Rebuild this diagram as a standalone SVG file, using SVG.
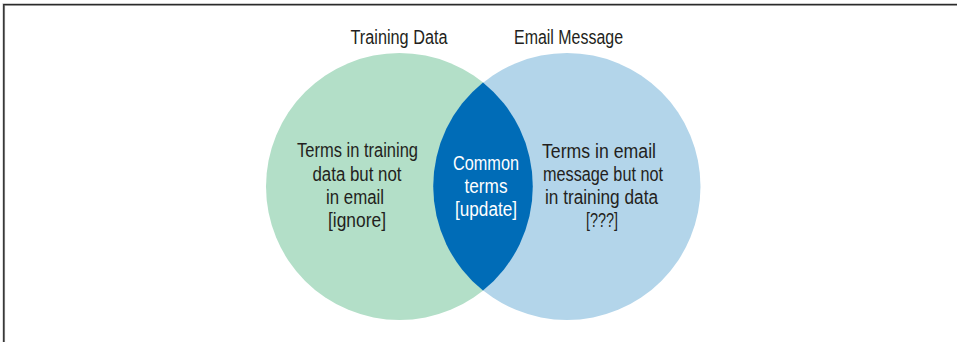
<svg xmlns="http://www.w3.org/2000/svg" width="957" height="342" viewBox="0 0 957 342">
<style>
text{font-family:"Liberation Sans",Arial,sans-serif;font-size:20px;fill:#231f20;text-anchor:middle}
.w{fill:#ffffff}
</style>
<rect width="957" height="342" fill="#ffffff"/>
<path d="M3.8,342 V4.6 H957" fill="none" stroke="#bdbdbd" stroke-width="2.6"/>
<path d="M3.8,342 V4.6 H957" fill="none" stroke="#2b2b2b" stroke-width="1.4"/>
<g id="training">
<circle cx="399.5" cy="186.5" r="133.5" fill="#b3dfc8"/>
<text x="399" y="44" textLength="97" lengthAdjust="spacingAndGlyphs">Training Data</text>
<text x="357.5" y="157" textLength="121" lengthAdjust="spacingAndGlyphs">Terms in training</text>
<text x="357" y="181" textLength="89" lengthAdjust="spacingAndGlyphs">data but not</text>
<text x="355" y="204" textLength="58" lengthAdjust="spacingAndGlyphs">in email</text>
<text x="357" y="227" textLength="58" lengthAdjust="spacingAndGlyphs">[ignore]</text>
</g>
<g id="email">
<circle cx="567" cy="186.5" r="133.5" fill="#b3d5ea"/>
<text x="568.5" y="44" textLength="109" lengthAdjust="spacingAndGlyphs">Email Message</text>
<text x="599" y="157.5" textLength="114" lengthAdjust="spacingAndGlyphs">Terms in email</text>
<text x="603" y="181" textLength="120" lengthAdjust="spacingAndGlyphs">message but not</text>
<text x="601.5" y="204" textLength="113" lengthAdjust="spacingAndGlyphs">in training data</text>
<text x="602" y="227" textLength="32" lengthAdjust="spacingAndGlyphs">[???]</text>
</g>
<g id="common">
<path d="M483,82.5 A133.5,133.5 0 0 1 483,290.5 A133.5,133.5 0 0 1 483,82.5 Z" fill="#006cb7"/>
<text class="w" x="486" y="170" textLength="66" lengthAdjust="spacingAndGlyphs">Common</text>
<text class="w" x="486" y="193" textLength="43" lengthAdjust="spacingAndGlyphs">terms</text>
<text class="w" x="486" y="216" textLength="62" lengthAdjust="spacingAndGlyphs">[update]</text>
</g>
<g id="connectors"/>
</svg>
